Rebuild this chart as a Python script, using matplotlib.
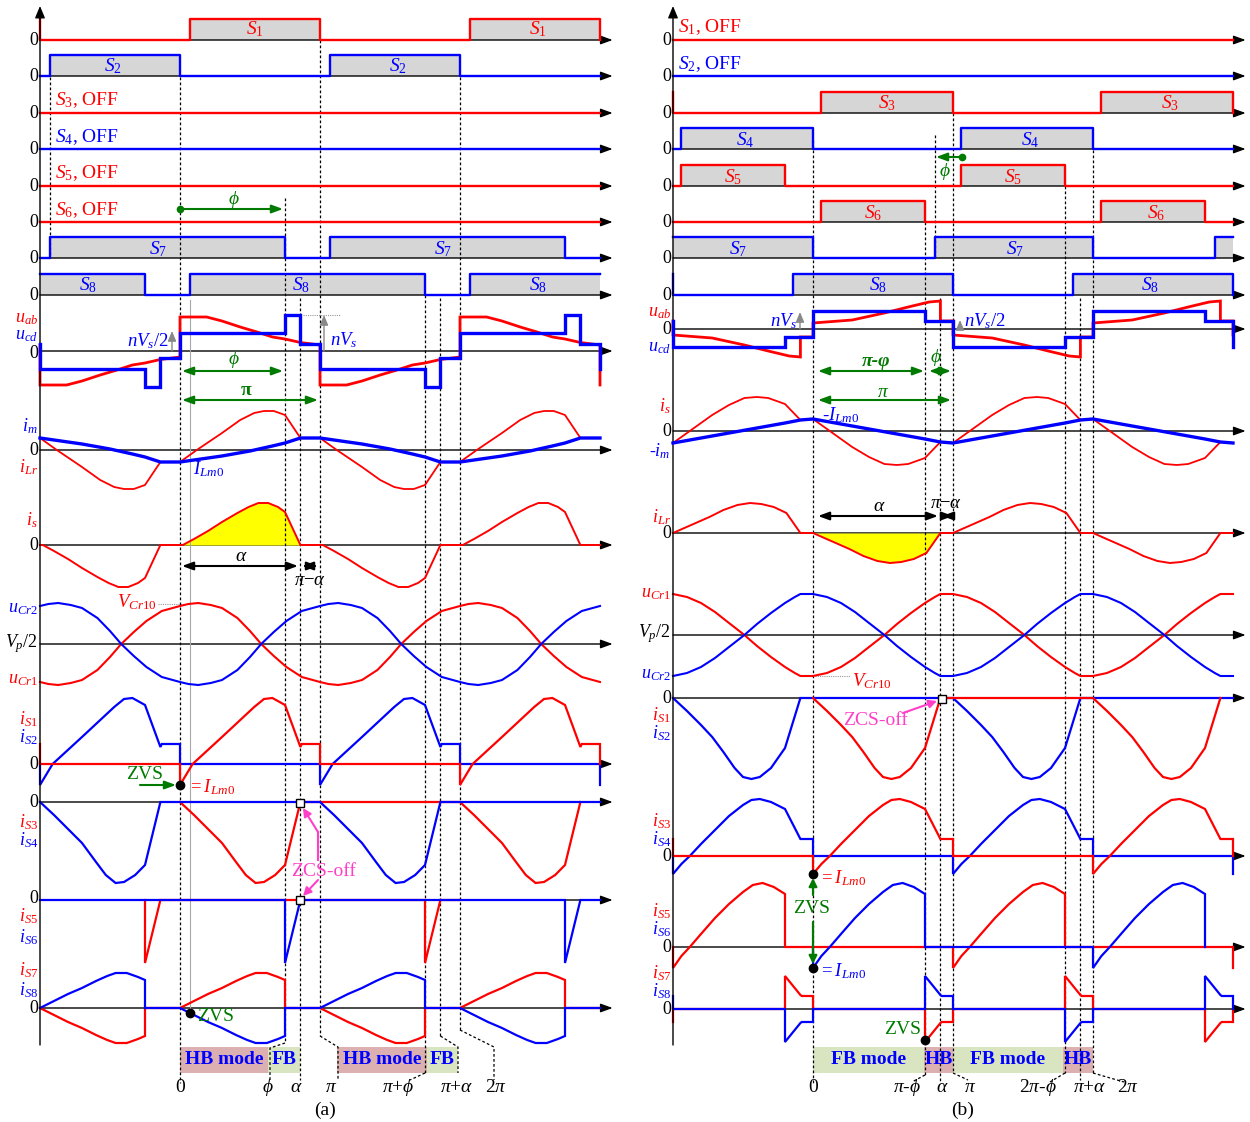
import numpy as np
import matplotlib
matplotlib.use("Agg")
import matplotlib.pyplot as plt

plt.rcParams.update({
    "font.family": ["Liberation Serif", "DejaVu Serif"],
    "mathtext.fontset": "custom",
    "mathtext.rm": "Liberation Serif",
    "mathtext.it": "Liberation Serif:italic",
    "mathtext.bf": "Liberation Serif:bold",
})

# ---------------------------------------------------------------- data
# time in units of pi; amplitudes in drawing units (pixels of the row)
PHI_A, ALPHA_A, DELTA_A = 0.75, 0.86, 0.07
PHI_B, ALPHA_B, DELTA_B = 0.2, 0.91, 0.06

# switching on-intervals over one 2*pi period
A_S1_ON = [(0.07, 1.0)]
A_S2_ON = [(1.07, 2.0)]
A_S3_ON = []
A_S4_ON = []
A_S5_ON = []
A_S6_ON = []
A_S7_ON = [(1.07, 2.75)]
A_S8_ON = [(0.07, 1.75)]

B_S1_ON = []
B_S2_ON = []
B_S3_ON = [(0.06, 1.0)]
B_S4_ON = [(1.06, 2.0)]
B_S5_ON = [(1.06, 1.8)]
B_S6_ON = [(0.06, 0.8)]
B_S7_ON = [(0.87, 2.0)]
B_S8_ON = [(-0.14, 1.0)]

# panel (a): half-period waveforms (second half = negative of first)
A_UAB_T = [0, 0.19, 0.3, 0.43, 0.55, 0.66, 0.75, 0.86, 1.0]
A_UAB_V = [34, 34, 30, 24, 19, 14, 12, 8.5, 6]
A_UCD_T = [0, 0.75, 0.75, 0.86, 0.86, 1.0]
A_UCD_V = [18, 18, 36, 36, 7, 7]
A_IM_T = [0, 0.3, 0.5, 0.66, 0.75, 0.86, 1.0]
A_IM_V = [-12, -6, -1, 4, 7, 12, 12]
A_ILR_T = [0, 0.12, 0.3, 0.43, 0.53, 0.6, 0.67, 0.75, 0.86, 1.0]
A_ILR_V = [-12, 0, 17, 30, 37, 39, 39, 35, 12, 12]
A_IS_T = [0, 0.02, 0.1, 0.2, 0.3, 0.41, 0.49, 0.56, 0.63, 0.7, 0.75, 0.86, 1.0]
A_IS_V = [0, 0, 6, 14, 23, 32, 38, 42, 42, 38, 33, 0, 0]
A_UCR1_T = [0, 0.06, 0.13, 0.22, 0.3, 0.41, 0.5, 0.58, 0.67, 0.76, 0.87, 1.0]
A_UCR1_V = [38, 40, 41, 39, 36, 26, 13, 0, -12, -23, -33, -38]
# panel (a): full-period switch currents (partner switch = shifted by pi)
A_IS1_T = [0, 0, 0.09, 0.3, 0.53, 0.6, 0.66, 0.75, 0.86, 0.87, 1.0, 1.0, 2.0]
A_IS1_V = [0, -21, 0, 27, 57, 65, 66, 59, 17, 20, 20, 0, 0]
A_IS3_T = [0, 0.1, 0.2, 0.3, 0.4, 0.47, 0.54, 0.6, 0.68, 0.75, 0.86, 2.0]
A_IS3_V = [0, -13, -27, -41, -60, -73, -81, -80, -73, -63, 0, 0]
A_IS5_T = [0, 1.75, 1.75, 1.86, 2.0]
A_IS5_V = [0, 0, -63, 0, 0]
A_IS7_T = [0, 0.1, 0.2, 0.3, 0.4, 0.48, 0.54, 0.62, 0.7, 0.75, 0.75,
           1.0, 1.1, 1.2, 1.3, 1.4, 1.48, 1.54, 1.62, 1.7, 1.75, 1.75, 2.0]
A_IS7_V = [0, 7, 14, 20, 27, 32, 35, 35, 31, 28, 0,
           0, -7, -14, -20, -27, -32, -35, -35, -31, -28, 0, 0]

# panel (b)
B_UAB_T = [0, 0.28, 0.51, 0.68, 0.83, 0.91, 0.91, 1.0]
B_UAB_V = [6, 9, 16, 22, 27, 28, 8, 8]
B_UCD_T = [0, 0.8, 0.8, 1.0]
B_UCD_V = [18, 18, 8, 8]
B_IS_T = [0, 0.1, 0.2, 0.28, 0.4, 0.51, 0.6, 0.68, 0.8, 0.91, 1.0]
B_IS_V = [12, 2, -8, -16, -26, -33, -34, -33, -27, -11, -12]
B_NIM_T = [0, 0.8, 0.91, 1.0]
B_NIM_V = [12, -8, -11, -12]
B_ILR_T = [0, 0.13, 0.26, 0.36, 0.46, 0.55, 0.63, 0.72, 0.81, 0.91, 1.0]
B_ILR_V = [0, -8, -16, -23, -28, -30, -29, -26, -20, 0, 0]
B_UCR1_T = [0, 0.1, 0.2, 0.3, 0.4, 0.51, 0.6, 0.7, 0.8, 0.87, 0.91, 1.0]
B_UCR1_V = [-41, -38, -32, -23, -12, 0, 11, 22, 32, 38, 41, 41]
B_IS1_T = [0, 0.1, 0.2, 0.28, 0.36, 0.44, 0.5, 0.56, 0.62, 0.7, 0.8, 0.91, 2.0]
B_IS1_V = [0, -13, -27, -39, -54, -70, -79, -81, -79, -70, -50, 0, 0]
B_IS3_T = [0, 0, 0.06, 0.12, 0.2, 0.3, 0.4, 0.5, 0.56, 0.62, 0.7, 0.8, 0.91, 1.0, 1.0, 2.0]
B_IS3_V = [0, -18, -8, 0, 12, 26, 40, 51, 56, 57, 54, 47, 17, 17, 0, 0]
B_IS6_T = [0, 0, 0.06, 0.12, 0.2, 0.3, 0.4, 0.5, 0.57, 0.64, 0.72, 0.8, 0.8, 2.0]
B_IS6_V = [0, -21, -9, 0, 13, 29, 43, 55, 62, 64, 60, 53, 0, 0]
B_IS7_T = [0, 0.8, 0.8, 0.91, 0.92, 1.0, 1.0, 1.8, 1.8, 1.91, 1.92, 2.0, 2.0]
B_IS7_V = [0, 0, -33, -14, -13, -13, 0, 0, 33, 14, 13, 13, 0]

# ---------------------------------------------------------------- layout
W, H = 1250, 1122
PPI = 140.0
T0 = {"a": 180.0, "b": 813.0}
T_START, T_END, T_ARROW = -1.0, 3.0, 3.09
SW_H = 21
SW_ROWS = [40, 76, 113, 149, 186, 222, 258, 295]
RED, BLUE, GREEN, MAG = "#ff0000", "#0000ff", "#007a00", "#ff3fc8"
GRAY, PINK, LGREEN = "#d6d6d6", "#dcb0b0", "#d9e5c1"
DASH = (0, (2.2, 1.8))

fig = plt.figure(figsize=(W / 100, H / 100), dpi=100)
AX = {}
for p, left in (("a", 0), ("b", 625)):
    ax = fig.add_axes([left / W, 0, 625 / W, 1])
    ax.set_xlim((left - T0[p]) / PPI, (left + 625 - T0[p]) / PPI)
    ax.set_ylim(H, 0)
    ax.axis("off")
    AX[p] = ax


def tx(p, px):
    return (px - T0[p]) / PPI


def txt(p, px, py, s, color="k", size=13, ha="center", va="center", **kw):
    AX[p].text(tx(p, px), py, s, color=color, fontsize=size, ha=ha, va=va, **kw)


def axis_line(ax, y):
    ax.annotate("", xy=(T_ARROW, y), xytext=(T_START, y),
                arrowprops=dict(arrowstyle="-|>,head_length=0.6,head_width=0.22",
                                color="k", lw=1.0, shrinkA=0, shrinkB=0,
                                mutation_scale=12), zorder=2)


def tile(T, V, period, shift=0.0, alt=False):
    ts, vs = [], []
    for k in range(-4, 5):
        sg = (-1) ** abs(k) if alt else 1
        for t, v in zip(T, V):
            tt = t + k * period + shift
            if T_START - 1e-9 <= tt <= T_END + 1e-9:
                ts.append(tt)
                vs.append(sg * v)
    return np.array(ts), np.array(vs)


def wave(ax, T, V, base, color, lw, period, shift=0.0, alt=False, z=3, neg=False):
    ts, vs = tile(T, V, period, shift, alt)
    if neg:
        vs = -vs
    ax.plot(ts, base - vs, color=color, lw=lw, zorder=z, solid_joinstyle="miter")


def switch(ax, base, iv, color):
    axis_line(ax, base)
    tiles = sorted((s + 2 * k, e + 2 * k) for k in range(-2, 3) for s, e in iv)
    pts = []
    for s, e in tiles:
        if e < T_START - 1e-9 or s > T_END:
            continue
        sc, ec = max(s, T_START), min(e, T_END)
        ax.fill_between([sc, ec], [base, base], [base - SW_H] * 2, color=GRAY,
                        lw=0, zorder=1)
        if s >= T_START:
            pts += [(s, 0), (s, SW_H)]
        else:
            pts += [(T_START, SW_H)]
        if e <= T_END + 0.02:
            pts += [(ec, SW_H), (ec, 0)]
        else:
            pts += [(T_END, SW_H)]
    if not pts or pts[0][0] > T_START:
        pts.insert(0, (T_START, 0))
    if pts[-1][0] < T_END:
        pts.append((T_END, 0))
    t, v = zip(*pts)
    ax.plot(t, base - np.array(v), color=color, lw=1.7, zorder=3)


def garrow(ax, t1, t2, y, color=GREEN, style="<|-|>", lw=1.5):
    ax.annotate("", xy=(t2, y), xytext=(t1, y),
                arrowprops=dict(arrowstyle=style + ",head_length=0.6,head_width=0.22",
                                color=color, lw=lw, shrinkA=0, shrinkB=0,
                                mutation_scale=11), zorder=4)


def varrow(ax, t, y1, y2, color, lw=1.0, ms=10):
    ax.annotate("", xy=(t, y2), xytext=(t, y1),
                arrowprops=dict(arrowstyle="-|>,head_length=0.6,head_width=0.25", color=color,
                                lw=lw, shrinkA=0, shrinkB=0, mutation_scale=ms), zorder=4)


# ---------------------------------------------------------------- panel (a)
ax = AX["a"]
p = "a"
varrow(ax, T_START, 1045, 6, "k", ms=12)
A_SW = [(A_S1_ON, RED), (A_S2_ON, BLUE), (A_S3_ON, RED), (A_S4_ON, BLUE),
        (A_S5_ON, RED), (A_S6_ON, RED), (A_S7_ON, BLUE), (A_S8_ON, BLUE)]
for base, (iv, c) in zip(SW_ROWS, A_SW):
    switch(ax, base, iv, c)
    txt(p, 38, base, "0", ha="right")

A_BASE = dict(u=351, i=450, s=545, c=644, s12=764, s34=802, s56=900, s78=1008)
for y in A_BASE.values():
    axis_line(ax, y)

wave(ax, A_UAB_T, A_UAB_V, A_BASE["u"], RED, 2.0, 1, alt=True)
wave(ax, A_UCD_T, A_UCD_V, A_BASE["u"], BLUE, 2.4, 1, alt=True, z=4)
wave(ax, A_ILR_T, A_ILR_V, A_BASE["i"], RED, 1.3, 1, alt=True)
wave(ax, A_IM_T, A_IM_V, A_BASE["i"], BLUE, 2.4, 1, alt=True, z=4)
m = np.array(A_IS_T) <= ALPHA_A + 1e-9
ax.fill_between(np.array(A_IS_T)[m], A_BASE["s"], A_BASE["s"] - np.array(A_IS_V)[m],
                color="#ffff00", lw=0, zorder=2.5)
wave(ax, A_IS_T, A_IS_V, A_BASE["s"], RED, 1.4, 1, alt=True)
wave(ax, A_UCR1_T, A_UCR1_V, A_BASE["c"], RED, 1.5, 1, alt=True)
wave(ax, A_UCR1_T, A_UCR1_V, A_BASE["c"], BLUE, 1.5, 1, alt=True, neg=True)
wave(ax, A_IS1_T, A_IS1_V, A_BASE["s12"], BLUE, 1.6, 2, shift=1.0)
wave(ax, A_IS1_T, A_IS1_V, A_BASE["s12"], RED, 1.6, 2)
wave(ax, A_IS3_T, A_IS3_V, A_BASE["s34"], RED, 1.6, 2)
wave(ax, A_IS3_T, A_IS3_V, A_BASE["s34"], BLUE, 1.6, 2, shift=1.0)
wave(ax, A_IS5_T, A_IS5_V, A_BASE["s56"], RED, 1.6, 2)
wave(ax, A_IS5_T, A_IS5_V, A_BASE["s56"], BLUE, 1.6, 2, shift=1.0)
wave(ax, A_IS7_T, A_IS7_V, A_BASE["s78"], RED, 1.6, 2)
wave(ax, A_IS7_T, A_IS7_V, A_BASE["s78"], BLUE, 1.6, 2, neg=True)

# guides
A_GUIDES = [(-0.93, 77, 258), (0.0, 77, 1083), (PHI_A, 198, 1043),
            (ALPHA_A, 298, 1080), (1.0, 40, 1036), (1 + PHI_A, 295, 1073),
            (1 + ALPHA_A, 298, 1036), (2.0, 77, 1030)]
for t, y1, y2 in A_GUIDES:
    ax.plot([t, t], [y1, y2], color="k", lw=0.9, ls=DASH, zorder=2.6)
ax.plot([DELTA_A, DELTA_A], [300, 1008], color="#a8a8a8", lw=0.8, zorder=2.6)
A_CONN = [[(PHI_A, 1043), (tx(p, 270), 1048), (tx(p, 270), 1080)],
          [(1.0, 1036), (tx(p, 338), 1047), (tx(p, 338), 1080)],
          [(1 + PHI_A, 1073), (tx(p, 410), 1080)],
          [(1 + ALPHA_A, 1036), (tx(p, 458), 1047), (tx(p, 458), 1073)],
          [(2.0, 1030), (tx(p, 494), 1047), (tx(p, 494), 1080)]]
for c in A_CONN:
    t, y = zip(*c)
    ax.plot(t, y, color="k", lw=0.9, ls=DASH, zorder=2.6)

A_BARS = [(180, 268, PINK, "HB mode"), (268, 300, LGREEN, "FB"),
          (337, 427, PINK, "HB mode"), (427, 458, LGREEN, "FB")]
for x1, x2, c, s in A_BARS:
    ax.fill_between([tx(p, x1), tx(p, x2)], [1047, 1047], [1073, 1073], color=c, lw=0, zorder=0.5)
    txt(p, (x1 + x2) / 2, 1059, s, color=BLUE, size=14, weight="bold")

for s, x in [("0", 180), (r"$\phi$", 268), (r"$\alpha$", 296), (r"$\pi$", 331),
             (r"$\pi$+$\phi$", 398), (r"$\pi$+$\alpha$", 457), (r"2$\pi$", 496)]:
    txt(p, x, 1088, s, size=14)
txt(p, 325, 1110, "(a)", size=14)

# switch labels
for x, y, s, c in [(255, 29, r"$S_1$", RED), (538, 29, r"$S_1$", RED),
                   (113, 66, r"$S_2$", BLUE), (398, 66, r"$S_2$", BLUE),
                   (158, 249, r"$S_7$", BLUE), (443, 249, r"$S_7$", BLUE),
                   (88, 285, r"$S_8$", BLUE), (301, 285, r"$S_8$", BLUE),
                   (538, 285, r"$S_8$", BLUE)]:
    txt(p, x, y, s, color=c, size=14)
for y, s, c in [(100, r"$S_3$, OFF", RED), (137, r"$S_4$, OFF", BLUE),
                (173, r"$S_5$, OFF", RED), (210, r"$S_6$, OFF", RED)]:
    txt(p, 55, y, s, color=c, size=14, ha="left")

# left labels
for y, s, c in [(318, r"$u_{ab}$", RED), (335, r"$u_{cd}$", BLUE), (353, "0", "k"),
                (426, r"$i_m$", BLUE), (450, "0", "k"), (467, r"$i_{Lr}$", RED),
                (520, r"$i_s$", RED), (545, "0", "k"),
                (608, r"$u_{Cr2}$", BLUE), (644, r"$V_p/2$", "k"), (679, r"$u_{Cr1}$", RED),
                (719, r"$i_{S1}$", RED), (737, r"$i_{S2}$", BLUE), (764, "0", "k"),
                (802, "0", "k"), (822, r"$i_{S3}$", RED), (840, r"$i_{S4}$", BLUE),
                (898, "0", "k"), (916, r"$i_{S5}$", RED), (937, r"$i_{S6}$", BLUE),
                (970, r"$i_{S7}$", RED), (990, r"$i_{S8}$", BLUE), (1008, "0", "k")]:
    txt(p, 38, y, s, color=c, ha="right", size=13)

# annotations (a)
ax.plot([0.0], [209], "o", color=GREEN, ms=4.5, zorder=5)
garrow(ax, 0.0, tx(p, 283), 209, style="-|>")
txt(p, 234, 199, r"$\phi$", color=GREEN, size=14)
garrow(ax, tx(p, 182), tx(p, 283), 371)
txt(p, 234, 359, r"$\phi$", color=GREEN, size=14)
garrow(ax, tx(p, 182), tx(p, 318), 400)
txt(p, 246, 390, "π", color=GREEN, size=14, weight="bold")
varrow(ax, tx(p, 172), 351, 331, "#888888")
txt(p, 169, 341, r"$nV_s/2$", color=BLUE, size=13.5, ha="right")
varrow(ax, tx(p, 324), 351, 315, "#888888")
ax.plot([tx(p, 303), tx(p, 340)], [315, 315], color="#999999", lw=0.8, ls=(0, (1, 1)))
txt(p, 330, 340, r"$nV_s$", color=BLUE, size=13.5, ha="left")
txt(p, 193, 469, r"$I_{Lm0}$", color=BLUE, size=13.5, ha="left")
garrow(ax, tx(p, 182), tx(p, 298), 566, color="k")
txt(p, 241, 556, r"$\alpha$", size=14)
garrow(ax, tx(p, 302), tx(p, 318), 566, color="k")
txt(p, 310, 580, r"$\pi$−$\alpha$", size=13.5)
ax.plot([tx(p, 158), tx(p, 190)], [604, 604], color="#999999", lw=0.8, ls=(0, (1, 1)))
txt(p, 157, 602, r"$V_{Cr10}$", color=RED, size=13.5, ha="right")
garrow(ax, tx(p, 140), tx(p, 176), 785, style="-|>")
txt(p, 145, 774, "ZVS", color=GREEN, size=14)
ax.plot([0.0], [785], "o", color="k", ms=6, zorder=6)
txt(p, 188, 787, r"$=I_{Lm0}$", color=RED, size=13.5, ha="left")
for y in (803, 900):
    ax.plot([ALPHA_A], [y], "s", mfc="white", mec="k", ms=6, mew=1, zorder=6)
txt(p, 324, 871, "ZCS-off", color=MAG, size=14)
ax.annotate("", xy=(tx(p, 303), 808), xytext=(tx(p, 318), 832),
            arrowprops=dict(arrowstyle="-|>", color=MAG, lw=1.5, mutation_scale=12,
                            shrinkA=0, shrinkB=0), zorder=6)
ax.plot([tx(p, 318), tx(p, 318)], [832, 860], color=MAG, lw=1.5, zorder=6)
ax.annotate("", xy=(tx(p, 303), 896), xytext=(tx(p, 318), 880),
            arrowprops=dict(arrowstyle="-|>", color=MAG, lw=1.5, mutation_scale=12,
                            shrinkA=0, shrinkB=0), zorder=6)
ax.plot([DELTA_A], [1013], "o", color="k", ms=6, zorder=6)
txt(p, 197, 1016, "ZVS", color=GREEN, size=14, ha="left")

# ---------------------------------------------------------------- panel (b)
ax = AX["b"]
p = "b"
varrow(ax, T_START, 1045, 6, "k", ms=12)
B_SW = [(B_S1_ON, RED), (B_S2_ON, BLUE), (B_S3_ON, RED), (B_S4_ON, BLUE),
        (B_S5_ON, RED), (B_S6_ON, RED), (B_S7_ON, BLUE), (B_S8_ON, BLUE)]
for base, (iv, c) in zip(SW_ROWS, B_SW):
    switch(ax, base, iv, c)
    txt(p, 671, base, "0", ha="right")

B_BASE = dict(u=329, s=431, lr=533, c=635, s12=698, s34=856, s56=947, s78=1009)
for y in B_BASE.values():
    axis_line(ax, y)

wave(ax, B_UAB_T, B_UAB_V, B_BASE["u"], RED, 2.0, 1, alt=True)
wave(ax, B_UCD_T, B_UCD_V, B_BASE["u"], BLUE, 2.4, 1, alt=True, z=4)
wave(ax, B_IS_T, B_IS_V, B_BASE["s"], RED, 1.3, 1, alt=True)
wave(ax, B_NIM_T, B_NIM_V, B_BASE["s"], BLUE, 2.4, 1, alt=True, z=4)
m = np.array(B_ILR_T) <= ALPHA_B + 1e-9
ax.fill_between(np.array(B_ILR_T)[m], B_BASE["lr"], B_BASE["lr"] - np.array(B_ILR_V)[m],
                color="#ffff00", lw=0, zorder=2.5)
wave(ax, B_ILR_T, B_ILR_V, B_BASE["lr"], RED, 1.4, 1, alt=True)
wave(ax, B_UCR1_T, B_UCR1_V, B_BASE["c"], RED, 1.5, 1, alt=True)
wave(ax, B_UCR1_T, B_UCR1_V, B_BASE["c"], BLUE, 1.5, 1, alt=True, neg=True)
wave(ax, B_IS1_T, B_IS1_V, B_BASE["s12"], BLUE, 1.6, 2, shift=1.0)
wave(ax, B_IS1_T, B_IS1_V, B_BASE["s12"], RED, 1.6, 2)
wave(ax, B_IS3_T, B_IS3_V, B_BASE["s34"], BLUE, 1.6, 2, shift=1.0)
wave(ax, B_IS3_T, B_IS3_V, B_BASE["s34"], RED, 1.6, 2)
wave(ax, B_IS6_T, B_IS6_V, B_BASE["s56"], RED, 1.6, 2, shift=1.0)
wave(ax, B_IS6_T, B_IS6_V, B_BASE["s56"], BLUE, 1.6, 2)
wave(ax, B_IS7_T, B_IS7_V, B_BASE["s78"], RED, 1.6, 2)
wave(ax, B_IS7_T, B_IS7_V, B_BASE["s78"], BLUE, 1.6, 2, neg=True)

B_GUIDES = [(0.0, 140, 1083), (1 - PHI_B, 222, 1075), (0.87, 135, 258),
            (ALPHA_B, 298, 1082), (1.0, 113, 1073), (2 - PHI_B, 186, 1073),
            (1 + ALPHA_B, 298, 1080), (2.0, 150, 1073)]
for t, y1, y2 in B_GUIDES:
    ax.plot([t, t], [y1, y2], color="k", lw=0.9, ls=DASH, zorder=2.6)
B_CONN = [[(1 - PHI_B, 1075), (tx(p, 912), 1082)],
          [(1.0, 1073), (tx(p, 968), 1080)],
          [(2 - PHI_B, 1073), (tx(p, 1050), 1082)],
          [(2.0, 1073), (tx(p, 1124), 1082)]]
for c in B_CONN:
    t, y = zip(*c)
    ax.plot(t, y, color="k", lw=0.9, ls=DASH, zorder=2.6)

B_BARS = [(813, 924, LGREEN, "FB mode"), (924, 953, PINK, "HB"),
          (953, 1063, LGREEN, "FB mode"), (1063, 1093, PINK, "HB")]
for x1, x2, c, s in B_BARS:
    ax.fill_between([tx(p, x1), tx(p, x2)], [1047, 1047], [1073, 1073], color=c, lw=0, zorder=0.5)
    txt(p, (x1 + x2) / 2, 1059, s, color=BLUE, size=14, weight="bold")

for s, x in [("0", 813), (r"$\pi$-$\phi$", 907), (r"$\alpha$", 942), (r"$\pi$", 970),
             (r"2$\pi$-$\phi$", 1038), (r"$\pi$+$\alpha$", 1090), (r"2$\pi$", 1128)]:
    txt(p, x, 1088, s, size=14)
txt(p, 963, 1110, "(b)", size=14)

for x, y, s, c in [(887, 103, r"$S_3$", RED), (1170, 103, r"$S_3$", RED),
                   (745, 140, r"$S_4$", BLUE), (1030, 140, r"$S_4$", BLUE),
                   (733, 177, r"$S_5$", RED), (1013, 177, r"$S_5$", RED),
                   (873, 213, r"$S_6$", RED), (1156, 213, r"$S_6$", RED),
                   (738, 249, r"$S_7$", BLUE), (1015, 249, r"$S_7$", BLUE),
                   (878, 285, r"$S_8$", BLUE), (1150, 285, r"$S_8$", BLUE)]:
    txt(p, x, y, s, color=c, size=14)
for y, s, c in [(27, r"$S_1$, OFF", RED), (64, r"$S_2$, OFF", BLUE)]:
    txt(p, 678, y, s, color=c, size=14, ha="left")

for y, s, c in [(312, r"$u_{ab}$", RED), (329, "0", "k"), (347, r"$u_{cd}$", BLUE),
                (406, r"$i_s$", RED), (431, "0", "k"), (451, r"-$i_m$", BLUE),
                (517, r"$i_{Lr}$", RED), (533, "0", "k"),
                (593, r"$u_{Cr1}$", RED), (634, r"$V_p/2$", "k"), (674, r"$u_{Cr2}$", BLUE),
                (698, "0", "k"), (715, r"$i_{S1}$", RED), (733, r"$i_{S2}$", BLUE),
                (821, r"$i_{S3}$", RED), (839, r"$i_{S4}$", BLUE), (856, "0", "k"),
                (911, r"$i_{S5}$", RED), (929, r"$i_{S6}$", BLUE), (947, "0", "k"),
                (973, r"$i_{S7}$", RED), (991, r"$i_{S8}$", BLUE), (1009, "0", "k")]:
    txt(p, 671, y, s, color=c, ha="right", size=13)

# annotations (b)
ax.plot([tx(p, 962)], [157], "o", color=GREEN, ms=4.5, zorder=5)
garrow(ax, tx(p, 962), tx(p, 936), 157, style="-|>")
txt(p, 945, 171, r"$\phi$", color=GREEN, size=14)
garrow(ax, tx(p, 818), tx(p, 924), 371)
txt(p, 876, 361, "π-φ", color=GREEN, size=14, weight="bold", style="italic")
garrow(ax, tx(p, 929), tx(p, 951), 371)
txt(p, 936, 357, r"$\phi$", color=GREEN, size=14)
garrow(ax, tx(p, 818), tx(p, 951), 400)
txt(p, 883, 392, r"$\pi$", color=GREEN, size=14)
varrow(ax, tx(p, 800), 329, 312, "#888888")
txt(p, 798, 321, r"$nV_s$", color=BLUE, size=13.5, ha="right")
varrow(ax, tx(p, 960), 329, 320, "#888888")
txt(p, 964, 321, r"$nV_s/2$", color=BLUE, size=13.5, ha="left")
txt(p, 822, 415, r"-$I_{Lm0}$", color=BLUE, size=13.5, ha="left")
garrow(ax, tx(p, 818), tx(p, 938), 516, color="k")
txt(p, 879, 506, r"$\alpha$", size=14)
garrow(ax, tx(p, 942), tx(p, 953), 516, color="k")
txt(p, 946, 503, r"$\pi$−$\alpha$", size=13.5)
ax.plot([tx(p, 815), tx(p, 850)], [676, 676], color="#999999", lw=0.8, ls=(0, (1, 1)))
txt(p, 852, 681, r"$V_{Cr10}$", color=RED, size=13.5, ha="left")
ax.plot([ALPHA_B + 0.01], [699], "s", mfc="white", mec="k", ms=6, mew=1, zorder=6)
txt(p, 876, 720, "ZCS-off", color=MAG, size=14)
ax.annotate("", xy=(tx(p, 937), 701), xytext=(tx(p, 903), 713),
            arrowprops=dict(arrowstyle="-|>", color=MAG, lw=1.5, mutation_scale=12,
                            shrinkA=0, shrinkB=0), zorder=6)
ax.plot([0.0, 0.0], [874, 968], "o", color="k", ms=6, zorder=6)
ax.annotate("", xy=(0.0, 878), xytext=(0.0, 895),
            arrowprops=dict(arrowstyle="-|>", color=GREEN, lw=1.6, mutation_scale=12,
                            shrinkA=0, shrinkB=0), zorder=6)
ax.annotate("", xy=(0.0, 964), xytext=(0.0, 922),
            arrowprops=dict(arrowstyle="-|>", color=GREEN, lw=1.6, mutation_scale=12,
                            shrinkA=0, shrinkB=0), zorder=6)
txt(p, 812, 908, "ZVS", color=GREEN, size=14)
txt(p, 819, 878, r"$=I_{Lm0}$", color=RED, size=13.5, ha="left")
txt(p, 819, 971, r"$=I_{Lm0}$", color=BLUE, size=13.5, ha="left")
ax.plot([1 - PHI_B], [1040], "o", color="k", ms=6, zorder=6)
txt(p, 903, 1029, "ZVS", color=GREEN, size=14)

fig.savefig("out.png", dpi=100)
